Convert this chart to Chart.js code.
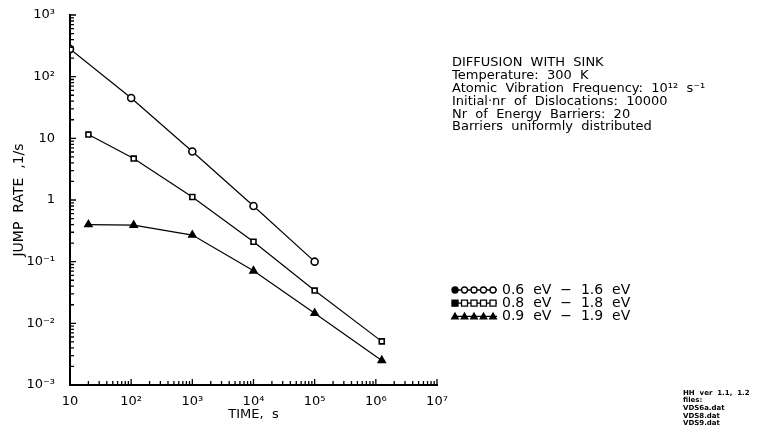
<!DOCTYPE html>
<html>
<head>
<meta charset="UTF-8">
<title>Diffusion with sink</title>
<script src="https://cdn.jsdelivr.net/npm/chart.js"></script>
<style>
  body { margin: 0; background: #fff; }
  #grafico { display: block; }
</style>
</head>
<body>
<canvas id="grafico" width="758" height="432"></canvas>
<script>
// valores
var tempoA = [10, 100, 1000, 1e4, 1e5];
var taxaA = [280, 45, 6.1, 0.8, 0.1];
var tempoB = [20, 110, 1000, 1e4, 1e5, 1.25e6];
var taxaB = [11.5, 4.7, 1.12, 0.21, 0.034, 0.0051];
var tempoC = [20, 110, 1000, 1e4, 1e5, 1.25e6];
var taxaC = [0.40, 0.39, 0.27, 0.071, 0.0146, 0.0025];

var legendas = ['0.6  eV  \u2212  1.6  eV', '0.8  eV  \u2212  1.8  eV', '0.9  eV  \u2212  1.9  eV'];
var estilos = ['circle', 'rect', 'triangle'];
var infoTexto = [
  'DIFFUSION  WITH  SINK',
  'Temperature:  300  K',
  'Atomic  Vibration  Frequency:  10\u00b9\u00b2  s\u207b\u00b9',
  'Initial\u00b7nr  of  Dislocations:  10000',
  'Nr  of  Energy  Barriers:  20',
  'Barriers  uniformly  distributed'
];
var rodape = ['HH  ver  1.1,  1.2', 'files:', 'VDS6a.dat', 'VDS8.dat', 'VDS9.dat'];

var sup = { '-': '\u207b', '0': '\u2070', '1': '\u00b9', '2': '\u00b2', '3': '\u00b3',
  '4': '\u2074', '5': '\u2075', '6': '\u2076', '7': '\u2077', '8': '\u2078', '9': '\u2079' };

function rotuloPotencia(v) {
  var e = Math.round(Math.log10(v));
  if (e === 0) return '1';
  if (e === 1) return '10';
  return '10' + String(e).split('').map(function (c) { return sup[c]; }).join('');
}

function pares(xs, ys) {
  var r = [];
  for (var i = 0; i < xs.length; i++) r.push({ x: xs[i], y: ys[i] });
  return r;
}

function potencias(scale) {
  var lo = Math.round(Math.log10(scale.min));
  var hi = Math.round(Math.log10(scale.max));
  var t = [];
  for (var e = lo; e <= hi; e++) t.push({ value: Math.pow(10, e) });
  scale.ticks = t;
}

// marcas de escala para dentro, com menores
var marcasPlugin = {
  id: 'marcas',
  afterDraw: function (chart) {
    var ctx = chart.ctx;
    var xs = chart.scales.x, ys = chart.scales.y;
    var area = chart.chartArea;
    ctx.save();
    ctx.strokeStyle = '#000';
    ctx.lineWidth = 1.3;
    ctx.beginPath();
    for (var e = 1; e < 7; e++) {
      for (var m = 1; m <= 9; m++) {
        var px = xs.getPixelForValue(m * Math.pow(10, e));
        var len = m === 1 ? 6 : 4;
        ctx.moveTo(px, area.bottom);
        ctx.lineTo(px, area.bottom - len);
      }
    }
    var pxEnd = xs.getPixelForValue(1e7);
    ctx.moveTo(pxEnd, area.bottom); ctx.lineTo(pxEnd, area.bottom - 6);
    for (var e2 = -3; e2 < 3; e2++) {
      for (var m2 = 1; m2 <= 9; m2++) {
        var py = ys.getPixelForValue(m2 * Math.pow(10, e2));
        var len2 = m2 === 1 ? 6 : 4;
        ctx.moveTo(area.left, py);
        ctx.lineTo(area.left + len2, py);
      }
    }
    var pyEnd = ys.getPixelForValue(1e3);
    ctx.moveTo(area.left, pyEnd); ctx.lineTo(area.left + 6, pyEnd);
    ctx.stroke();
    ctx.restore();
  }
};

function desenharMarcador(ctx, estilo, x, y, r, cheio) {
  ctx.beginPath();
  if (estilo === 'circle') {
    ctx.arc(x, y, r, 0, Math.PI * 2);
  } else if (estilo === 'rect') {
    ctx.rect(x - r, y - r, 2 * r, 2 * r);
  } else {
    ctx.moveTo(x, y - r * 1.1);
    ctx.lineTo(x + r * 1.1, y + r * 0.8);
    ctx.lineTo(x - r * 1.1, y + r * 0.8);
    ctx.closePath();
  }
  ctx.fillStyle = cheio ? '#000' : '#fff';
  ctx.fill();
  ctx.stroke();
}

// textos e legenda
var textosPlugin = {
  id: 'textos',
  afterDraw: function (chart) {
    var ctx = chart.ctx;
    ctx.save();
    ctx.fillStyle = '#000';
    ctx.textBaseline = 'middle';
    ctx.font = '13px "DejaVu Sans"';
    for (var i = 0; i < infoTexto.length; i++) {
      ctx.fillText(infoTexto[i], 452, 63 + i * 12.8);
    }
    ctx.font = '14px "DejaVu Sans"';
    ctx.strokeStyle = '#000';
    ctx.lineWidth = 1.3;
    for (var j = 0; j < legendas.length; j++) {
      var y = 290 + j * 13.2;
      ctx.beginPath();
      ctx.moveTo(453, y); ctx.lineTo(497, y);
      ctx.stroke();
      for (var k = 0; k < 5; k++) {
        var cheio = estilos[j] === 'triangle' || k === 0;
        desenharMarcador(ctx, estilos[j], 455 + k * 9.5, y, 3, cheio);
      }
      ctx.fillStyle = '#000';
      ctx.fillText(legendas[j], 502, y);
    }
    ctx.font = 'bold 7px "DejaVu Sans"';
    for (var n = 0; n < rodape.length; n++) {
      ctx.fillText(rodape[n], 683, 393 + n * 7.6);
    }
    ctx.restore();
  }
};

var serieBase = {
  borderColor: '#000',
  borderWidth: 1.2,
  pointBorderColor: '#000',
  pointBorderWidth: 1.6,
  pointRadius: 3.5,
  pointHoverRadius: 3.5,
  fill: false,
  tension: 0
};

var config = {
  type: 'line',
  data: {
    datasets: [
      Object.assign({}, serieBase, { label: legendas[0], data: pares(tempoA, taxaA), pointStyle: 'circle', pointBackgroundColor: '#fff' }),
      Object.assign({}, serieBase, { label: legendas[1], data: pares(tempoB, taxaB), pointStyle: 'rect', pointBackgroundColor: '#fff' }),
      Object.assign({}, serieBase, { label: legendas[2], data: pares(tempoC, taxaC), pointStyle: 'triangle', pointBackgroundColor: '#000', pointRadius: 4 })
    ]
  },
  options: {
    responsive: false,
    animation: false,
    layout: { padding: { top: 15, right: 321, left: 0, bottom: 0 } },
    plugins: { legend: { display: false }, tooltip: { enabled: false } },
    scales: {
      x: {
        type: 'logarithmic',
        min: 10,
        max: 1e7,
        afterBuildTicks: potencias,
        afterFit: function (s) { s.height = 47; },
        grid: { display: false },
        border: { display: true, color: '#000', width: 2 },
        ticks: {
          color: '#000',
          font: { family: 'DejaVu Sans', size: 13 },
          padding: 1,
          maxRotation: 0,
          autoSkip: false,
          callback: function (v) { return rotuloPotencia(v); }
        },
        title: {
          display: true,
          text: 'TIME,  s',
          color: '#000',
          font: { family: 'DejaVu Sans', size: 13 },
          padding: { top: 0, bottom: 10 }
        }
      },
      y: {
        type: 'logarithmic',
        min: 1e-3,
        max: 1e3,
        afterBuildTicks: potencias,
        afterFit: function (s) { s.width = 70; },
        grid: { display: false },
        border: { display: true, color: '#000', width: 2 },
        ticks: {
          color: '#000',
          font: { family: 'DejaVu Sans', size: 13 },
          padding: 7,
          autoSkip: false,
          callback: function (v) { return rotuloPotencia(v); }
        },
        title: {
          display: true,
          text: 'JUMP  RATE  ,1/s',
          color: '#000',
          font: { family: 'DejaVu Sans', size: 14 },
          padding: { top: 11, bottom: 0 }
        }
      }
    }
  },
  plugins: [marcasPlugin, textosPlugin]
};

var grafico = new Chart(document.getElementById('grafico'), config);
</script>
</body>
</html>
